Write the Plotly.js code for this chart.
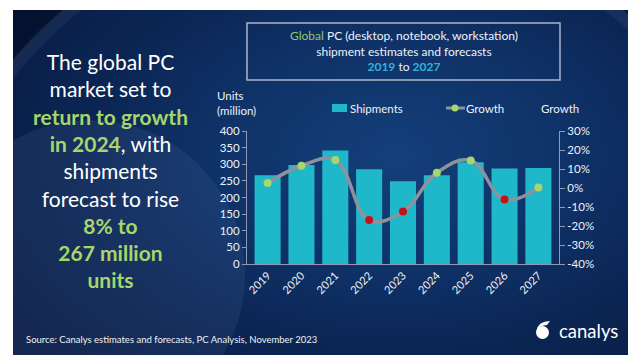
<!DOCTYPE html>
<html>
<head>
<meta charset="utf-8">
<script src="https://cdn.plot.ly/plotly-3.0.1.min.js"></script>
<style>
  html, body { margin: 0; padding: 0; background: #ffffff; width: 640px; height: 363px; overflow: hidden; }
  #panel { position: absolute; left: 13px; top: 10px; width: 615px; height: 345px; overflow: hidden;
    background: radial-gradient(ellipse 75% 85% at 62% 42%, #143f7a 0%, #0f3268 38%, #0b2553 68%, #081b42 100%); }
  #disc { position: absolute; left: -78px; top: 110px; width: 310px; height: 310px; border-radius: 50%;
    background: rgba(140,175,230,0.09); }
  #corner { position: absolute; left: 0; top: 0; width: 615px; height: 345px;
    background: radial-gradient(circle at 330px 330px, rgba(0,0,0,0) 0px, rgba(0,0,0,0) 420px, rgba(255,255,255,0.05) 422px, rgba(255,255,255,0.05) 432px, rgba(2,8,28,0.55) 434px); }
  #chart { position: absolute; left: 0; top: 0; width: 640px; height: 363px; }
</style>
</head>
<body>
<div id="panel"><div id="disc"></div><div id="corner"></div></div>
<div id="chart"></div>
<script>
// ---- data ----
const years = ['2019', '2020', '2021', '2022', '2023', '2024', '2025', '2026', '2027'];
const shipments = [267, 298, 341, 285, 249, 267, 306, 287, 289];
const growth = [0.026, 0.117, 0.147, -0.169, -0.124, 0.08, 0.145, -0.061, 0.002];
const unitTickVals = [0, 50, 100, 150, 200, 250, 300, 350, 400];
const growthTickVals = [-0.4, -0.3, -0.2, -0.1, 0, 0.1, 0.2, 0.3];
const growthTickText = ['-40%', '-30%', '-20%', '-10%', '0%', '10%', '20%', '30%'];

// ---- style ----
const FONT = 'Lato, "Open Sans", sans-serif';
const BAR = '#1eb8ca';
const GREEN = '#a6d66c';
const RED = '#c3141c';
const LINE = '#8d939b';
const TXT = '#eef2f8';
const AX = '#8f9bb0';

const L = 247, R = 559, T = 131, B = 264;
const PX = x => (x - L) / (R - L);
const PY = y => (B - y) / (B - T);

const bars = {
  type: 'bar', x: years, y: shipments, name: 'Shipments',
  marker: { color: BAR }, hoverinfo: 'x+y'
};
const line = {
  type: 'scatter', mode: 'lines+markers', x: years, y: growth, yaxis: 'y2', name: 'Growth',
  line: { color: LINE, width: 3.5, shape: 'spline', smoothing: 1.15 },
  marker: { size: 8, color: growth.map(g => g >= 0 ? GREEN : RED), line: { width: 0 } }
};

const ann = (x, y, text, opts) => Object.assign({
  xref: 'paper', yref: 'paper', x: PX(x), y: PY(y), text: text, showarrow: false,
  xanchor: 'left', yanchor: 'middle', font: { family: FONT, size: 12, color: TXT }
}, opts || {});

const g = s => '<span style="color:' + GREEN + '"><b>' + s + '</b></span>';
const leftText = 'The global PC<br>market set to<br>' + g('return to growth') + '<br>' + g('in 2024') +
  ', with<br>shipments<br>forecast to rise<br>' + g('8% to') + '<br>' + g('267 million') + '<br>' + g('units');

const titleText = '<span style="color:#8fc86a">Global</span> PC (desktop, notebook, workstation)<br>' +
  'shipment estimates and forecasts<br>' +
  '<span style="color:#2fb4dc"><b>2019</b></span> to <span style="color:#2fb4dc"><b>2027</b></span>';

const layout = {
  width: 640, height: 363,
  margin: { l: L, r: 640 - R, t: T, b: 363 - B, pad: 0 },
  paper_bgcolor: 'rgba(0,0,0,0)', plot_bgcolor: 'rgba(0,0,0,0)',
  showlegend: false, bargap: 0.23,
  font: { family: FONT, color: TXT },
  xaxis: {
    type: 'category', tickangle: -45, tickfont: { family: FONT, size: 11, color: TXT },
    showline: true, linecolor: AX, linewidth: 1, ticks: '', showgrid: false, zeroline: false
  },
  yaxis: {
    range: [0, 400], tickvals: unitTickVals, showgrid: false, zeroline: false,
    showline: true, linecolor: AX, ticks: 'outside', ticklen: 4, tickcolor: AX,
    tickfont: { family: FONT, size: 11.5, color: TXT }
  },
  yaxis2: {
    overlaying: 'y', side: 'right', range: [-0.4, 0.3], tickvals: growthTickVals, ticktext: growthTickText,
    showgrid: false, zeroline: false, showline: true, linecolor: AX, ticks: 'outside', ticklen: 5, tickcolor: AX,
    tickfont: { family: FONT, size: 11.5, color: TXT }
  },
  annotations: [
    ann(110, 170, leftText, { xanchor: 'center', align: 'center', font: { family: FONT, size: 21, color: '#ffffff' } }),
    ann(404, 51, titleText, { xanchor: 'center', align: 'center', font: { family: FONT, size: 12, color: TXT } }),
    ann(215, 103, 'Units<br>(million)', { align: 'left', font: { family: FONT, size: 11.5, color: TXT } }),
    ann(348, 108, 'Shipments', { font: { family: FONT, size: 11.5, color: TXT } }),
    ann(464, 108, 'Growth', { font: { family: FONT, size: 11.5, color: TXT } }),
    ann(539, 108, 'Growth', { font: { family: FONT, size: 11.5, color: TXT } }),
    ann(24, 339, 'Source: Canalys estimates and forecasts, PC Analysis, November 2023', { font: { family: FONT, size: 9.5, color: TXT } }),
    ann(557, 331, 'canalys', { font: { family: FONT, size: 18.5, color: '#ffffff' } })
  ],
  shapes: [
    { type: 'rect', xref: 'paper', yref: 'paper', x0: PX(247), x1: PX(560), y0: PY(23), y1: PY(80),
      line: { color: '#a9b6cc', width: 1.5 }, fillcolor: 'rgba(0,0,0,0)' },
    { type: 'rect', xref: 'paper', yref: 'paper', x0: PX(332), x1: PX(347), y0: PY(104), y1: PY(112),
      line: { width: 0 }, fillcolor: BAR },
    { type: 'line', xref: 'paper', yref: 'paper', x0: PX(446), x1: PX(465), y0: PY(108), y1: PY(108),
      line: { color: LINE, width: 3 } },
    { type: 'circle', xref: 'paper', yref: 'paper', x0: PX(451.5), x1: PX(458.5), y0: PY(104.5), y1: PY(111.5),
      line: { width: 0 }, fillcolor: GREEN },
    { type: 'circle', xref: 'paper', yref: 'paper', x0: PX(536), x1: PX(549), y0: PY(326), y1: PY(339),
      line: { width: 0 }, fillcolor: '#ffffff' },
    { type: 'path', xref: 'paper', yref: 'paper',
      path: 'M ' + PX(536.5) + ',' + PY(331) + ' Q ' + PX(538) + ',' + PY(321) + ' ' + PX(550) + ',' + PY(321) +
            ' L ' + PX(547) + ',' + PY(325) + ' Q ' + PX(540) + ',' + PY(325) + ' ' + PX(536.5) + ',' + PY(331) + ' Z',
      line: { width: 0 }, fillcolor: '#ffffff' }
  ]
};

Plotly.newPlot('chart', [bars, line], layout, { staticPlot: true, displayModeBar: false });
</script>
</body>
</html>
